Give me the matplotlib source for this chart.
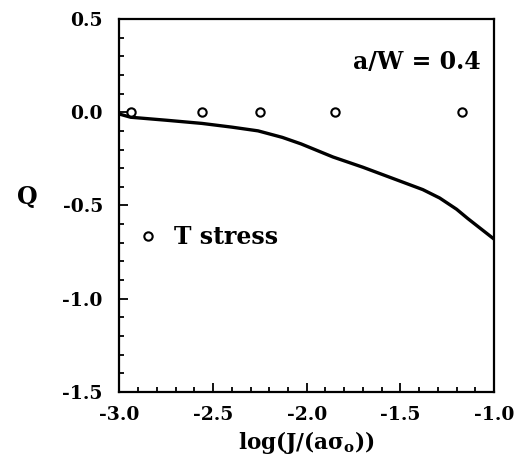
import matplotlib
matplotlib.use('Agg')
import matplotlib.pyplot as plt
from matplotlib.ticker import MultipleLocator

# T stress estimates (circles)
t_x = [-2.94, -2.56, -2.25, -1.85, -1.17]
t_q = [0.0, 0.0, 0.0, 0.0, 0.0]

# Q from full field solution (solid line)
curve_x = [-3.0, -2.94, -2.75, -2.56, -2.4, -2.26, -2.13, -2.03, -1.86, -1.7, -1.5, -1.38, -1.29, -1.2, -1.14, -1.07, -1.0]
curve_q = [-0.01, -0.027, -0.043, -0.06, -0.08, -0.10, -0.135, -0.17, -0.24, -0.295, -0.37, -0.415, -0.46, -0.52, -0.57, -0.625, -0.68]

plt.rcParams['font.family'] = ['DejaVu Serif']
plt.rcParams['font.weight'] = 'bold'
plt.rcParams['mathtext.fontset'] = 'dejavuserif'
plt.rcParams['mathtext.default'] = 'bf'

fig = plt.figure(figsize=(5.17, 4.62), dpi=100)
ax = fig.add_axes([0.231, 0.1515, 0.7245, 0.8075])

ax.plot(curve_x, curve_q, color='black', linewidth=2.4, solid_joinstyle='round')
ax.plot(t_x, t_q, linestyle='none', marker='o', markersize=6, markerfacecolor='white',
        markeredgecolor='black', markeredgewidth=1.5, label='T stress', clip_on=False)

ax.set_xlim(-3.0, -1.0)
ax.set_ylim(-1.5, 0.5)
ax.xaxis.set_major_locator(MultipleLocator(0.5))
ax.xaxis.set_minor_locator(MultipleLocator(0.1))
ax.yaxis.set_major_locator(MultipleLocator(0.5))
ax.yaxis.set_minor_locator(MultipleLocator(0.1))
ax.xaxis.set_major_formatter(plt.FormatStrFormatter('%.1f'))
ax.yaxis.set_major_formatter(plt.FormatStrFormatter('%.1f'))

ax.tick_params(which='both', direction='in', top=False, right=False, width=1.3)
ax.tick_params(which='major', length=6.5, labelsize=13.5)
ax.tick_params(axis='x', which='major', pad=10)
ax.tick_params(axis='y', which='major', pad=12)
ax.tick_params(which='minor', length=3.5)
for lbl in ax.get_xticklabels() + ax.get_yticklabels():
    lbl.set_fontweight('bold')
for s in ax.spines.values():
    s.set_linewidth(1.6)

ax.set_ylabel('Q', fontsize=17, fontweight='bold', rotation=0, va='center', ha='center')
ax.yaxis.set_label_coords(-0.245, 0.523)
ax.set_xlabel(r'log(J/(a$\sigma_{\rm o}$))', fontsize=15.5, fontweight='bold', labelpad=4)

ax.text(0.965, 0.885, 'a/W = 0.4', transform=ax.transAxes, ha='right', va='center',
        fontsize=17, fontweight='bold')

ax.legend(loc='center left', bbox_to_anchor=(0.045, 0.416), frameon=False,
          handlelength=1.0, handletextpad=0.6, borderpad=0, borderaxespad=0,
          prop={'weight': 'bold', 'size': 17})

fig.savefig('out.png', dpi=100, facecolor='white')
